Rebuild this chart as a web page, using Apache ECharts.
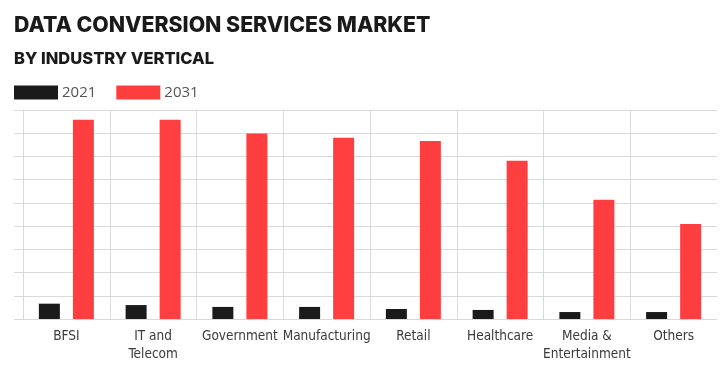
<!DOCTYPE html>
<html>
<head>
<meta charset="utf-8">
<script src="https://cdn.jsdelivr.net/npm/echarts@6/dist/echarts.min.js"></script>
<style>
  html, body { margin: 0; padding: 0; background: #fff; }
  #chart { width: 728px; height: 376px; }
</style>
</head>
<body>
<div id="chart"></div>
<script>
  // categories and values (relative units, axis 0..9)
  var categories = ['BFSI', 'IT and\nTelecom', 'Government', 'Manufacturing', 'Retail', 'Healthcare', 'Media &\nEntertainment', 'Others'];
  var values2021 = [0.66, 0.6, 0.52, 0.52, 0.43, 0.39, 0.3, 0.3];
  var values2031 = [8.58, 8.58, 7.99, 7.8, 7.67, 6.81, 5.13, 4.09];
  var seriesNames = ['2021', '2031'];

  var colors = ['#1a1a1a', '#ff3f3f'];
  var gridColor = '#d9d9d9';

  // one colour per category boundary, the last one (right edge) hidden
  var vLineColors = categories.map(function () { return gridColor; });
  vLineColors.push('rgba(0,0,0,0)');

  var myChart = echarts.init(document.getElementById('chart'));
  var option = {
    backgroundColor: '#fff',
    color: colors,
    title: [
      {
        text: 'DATA CONVERSION SERVICES MARKET',
        left: 9,
        top: 10,
        textStyle: { fontFamily: 'Inter', fontWeight: 800, fontSize: 21.3, color: '#1a1a1a' }
      },
      {
        text: 'BY INDUSTRY VERTICAL',
        left: 9,
        top: 46,
        textStyle: { fontFamily: 'Inter', fontWeight: 800, fontSize: 16.5, color: '#1a1a1a' }
      }
    ],
    legend: {
      left: 9,
      top: 80,
      itemWidth: 44,
      itemHeight: 14,
      itemGap: 20,
      icon: 'rect',
      textStyle: { fontFamily: 'Open Sans', fontSize: 15, color: '#555', padding: [0, 0, 0, -1] },
      data: seriesNames
    },
    grid: { left: 23, right: 11, top: 110, bottom: 57 },
    xAxis: {
      type: 'category',
      data: categories,
      axisLine: { lineStyle: { color: gridColor } },
      axisTick: { show: false },
      splitLine: { show: true, lineStyle: { color: vLineColors } },
      axisLabel: {
        interval: 0,
        margin: 8,
        fontFamily: 'DejaVu Sans Condensed',
        fontSize: 13.5,
        lineHeight: 18,
        color: '#3a3a3a'
      }
    },
    yAxis: {
      type: 'value',
      min: 0,
      max: 9,
      interval: 1,
      axisLabel: { show: false },
      axisLine: { show: true, lineStyle: { color: gridColor } },
      axisTick: { show: true, length: 9, lineStyle: { color: gridColor } },
      splitLine: { lineStyle: { color: gridColor } }
    },
    series: [
      {
        name: seriesNames[0],
        type: 'bar',
        barWidth: 21,
        barGap: '62%',
        data: values2021
      },
      {
        name: seriesNames[1],
        type: 'bar',
        barWidth: 21,
        data: values2031
      }
    ]
  };
  myChart.setOption(option);
</script>
</body>
</html>
